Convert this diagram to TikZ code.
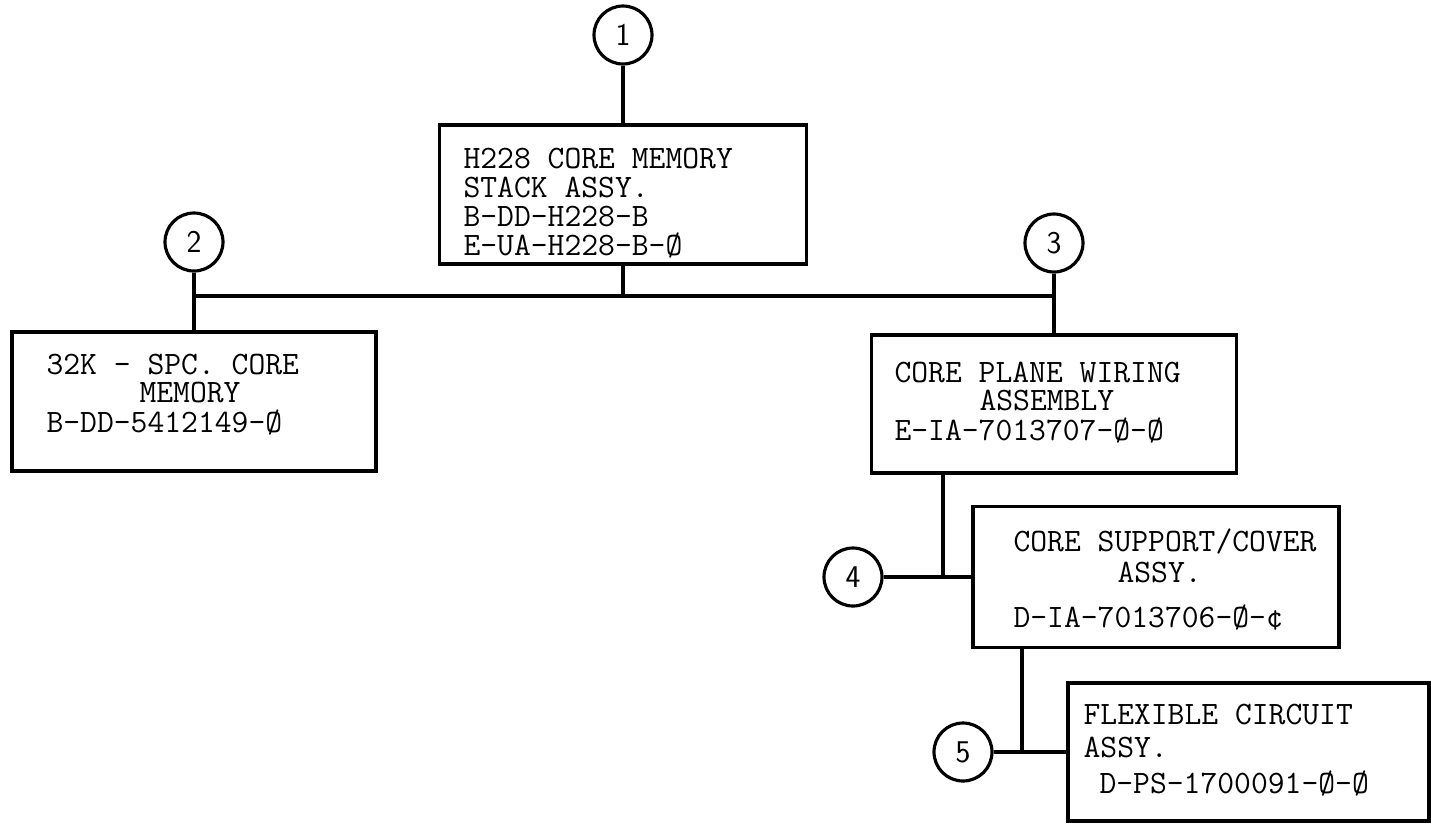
\documentclass[tikz,border=0pt]{standalone}
\usepackage{tikz}

\begin{document}
\begin{tikzpicture}[x=0.02cm,y=-0.02cm,line width=1.8pt,
  partbox/.style={draw,rectangle,inner sep=0pt},
  callout/.style={draw,circle,minimum size=1.16cm,inner sep=0pt,font=\sffamily\fontsize{18}{18}\selectfont},
  parttext/.style={anchor=base west,align=left,inner sep=0pt,font=\ttfamily\fontsize{18.6}{16.4}\selectfont}]
  \useasboundingbox (0,0) rectangle (1431,823);
  \node[callout] (c1) at (623,35) {1};
  \node[callout] (c2) at (194,242) {2};
  \node[callout] (c3) at (1054,243) {3};
  \node[callout] (c4) at (853,577) {4};
  \node[callout] (c5) at (963,752) {5};
  \node[partbox,minimum width=7.34cm,minimum height=2.78cm] (b1) at (623,194.5) {};
  \node[partbox,minimum width=7.28cm,minimum height=2.78cm] (b2) at (194,401.5) {};
  \node[partbox,minimum width=7.30cm,minimum height=2.76cm] (b3) at (1054,404) {};
  \node[partbox,minimum width=7.32cm,minimum height=2.82cm] (b4) at (1156,577) {};
  \node[partbox,minimum width=7.22cm,minimum height=2.76cm] (b5) at (1248.5,752) {};
  \node[parttext] (t1) at (462,255) {H228 CORE MEMORY\\STACK ASSY.\\B-DD-H228-B\\E-UA-H228-B-Ø};
  \node[parttext] (t2) at (45,432) {32K - SPC. CORE\\[-0.5pt]\hspace*{1.86cm}MEMORY\\[0.5pt]B-DD-5412149-Ø};
  \node[parttext] (t3) at (893,440) {CORE PLANE WIRING\\[-0.5pt]\hspace*{1.7cm}ASSEMBLY\\[0.5pt]E-IA-7013707-Ø-Ø};
  \node[parttext] (t4) at (1012,627) {CORE SUPPORT/COVER\\[1pt]\hspace*{2.08cm}ASSY.\\[9pt]D-IA-7013706-Ø-¢};
  \node[parttext] (t5) at (1082,793) {FLEXIBLE CIRCUIT\\[2pt]ASSY.\\[4pt]\hspace*{0.32cm}D-PS-1700091-Ø-Ø};
  \coordinate (bus) at (0,296);
  \coordinate (j4) at (943,577);
  \coordinate (j5) at (1022,752);
  \draw (c1) -- (b1);
  \draw (c2) -- (b2);
  \draw (c3) -- (b3);
  \draw (b1.south) -- (b1.south |- bus);
  \draw (c2 |- bus) -- (c3 |- bus);
  \draw (b3.south -| j4) -- (j4);
  \draw (c4) -- (b4);
  \draw (b4.south -| j5) -- (j5);
  \draw (c5) -- (b5);
\end{tikzpicture}
\end{document}
